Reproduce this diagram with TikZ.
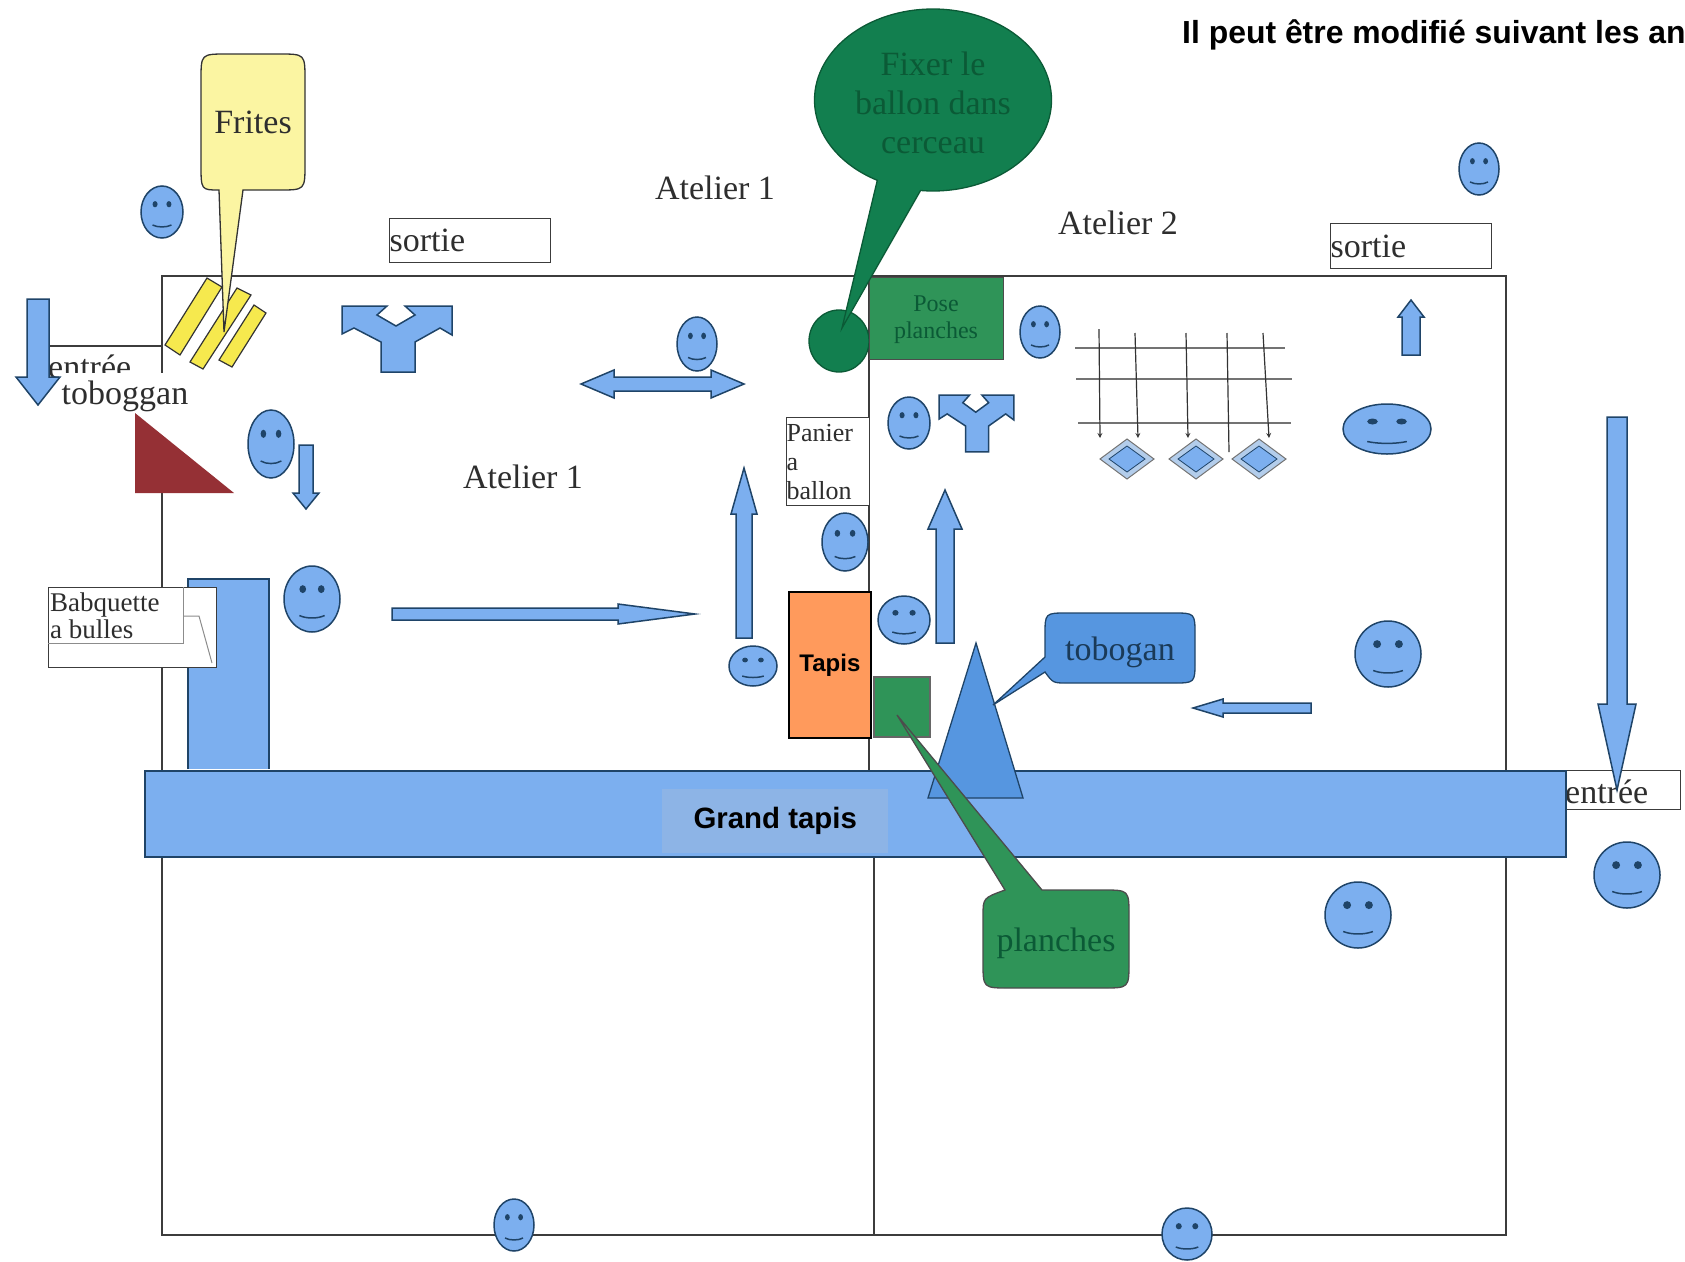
\documentclass[tikz,border=0pt]{standalone}
\usepackage{fontspec}
\setmainfont{Liberation Serif}
\newfontfamily\headfont{Liberation Sans}
\usetikzlibrary{positioning,shapes.callouts}

\definecolor{matblue}{HTML}{7CAFEF}
\definecolor{matline}{HTML}{1F4468}
\definecolor{tapisblue}{HTML}{8DB4E6}
\definecolor{slideblue}{HTML}{5696E0}
\definecolor{wall}{HTML}{3C3C3C}
\definecolor{ballgreen}{HTML}{127F4F}
\definecolor{boardgreen}{HTML}{2F9458}
\definecolor{inkgreen}{HTML}{0B5A36}
\definecolor{friesyellow}{HTML}{F6E94E}
\definecolor{paleyellow}{HTML}{FBF5A2}
\definecolor{tapisorange}{HTML}{FF9A5C}
\definecolor{slidered}{HTML}{953035}
\definecolor{tilepale}{HTML}{B3CDEB}
\definecolor{ink}{HTML}{2E2E2E}

\tikzset{
    wallline/.style={draw=wall, line width=1.8pt},
    matshape/.style={fill=matblue, draw=matline, line width=1.5pt},
    serifbig/.style={font=\fontsize{34}{38}\selectfont, text=ink, inner sep=0pt},
    boxlabel/.style={serifbig, draw=wall, fill=white, line width=1.3pt, anchor=north west, align=left},
    smallbox/.style={boxlabel, font=\fontsize{26}{29}\selectfont},
    darkline/.style={draw=black!80, line width=1.2pt},
}

\newcommand{\drawface}[4]{
    \begin{scope}[shift={(#1,#2)}, x=#3pt, y=-#4pt]
        \draw[matshape] (0,0) circle [x radius=1, y radius=1];
        \fill[matline] (-.33,-.3) circle [x radius=.12, y radius=.12];
        \fill[matline] (.33,-.3) circle [x radius=.12, y radius=.12];
        \draw[matline, line width=1.5pt] (-.45,.5) .. controls (-.2,.6) and (.2,.6) .. (.45,.5);
    \end{scope}
}
% x, y, angle, length, half shaft, head length, half head
\newcommand{\drawarrow}[7]{
    \begin{scope}[shift={(#1,#2)}, rotate=#3]
        \draw[matshape] (0,-#5) -- ({#4-#6},-#5) -- ({#4-#6},-#7) -- (#4,0)
            -- ({#4-#6},#7) -- ({#4-#6},#5) -- (0,#5) -- cycle;
    \end{scope}
}
\newcommand{\drawtee}[4]{
    \begin{scope}[shift={(#1,#2)}, xscale=#3, yscale=#4]
        \draw[matshape] (0,0) -- (45,0) -- (35,9) -- (54,20) -- (73,9) -- (63,0) -- (110,0)
            -- (110,29) -- (98,22) -- (73,36) -- (73,66) -- (39,66) -- (39,36) -- (12,22)
            -- (0,28) -- cycle;
    \end{scope}
}
\newcommand{\drawtile}[2]{
    \draw[fill=tilepale, draw=black!55, line width=1pt] (#1-27,#2) -- (#1,#2-20) -- (#1+27,#2) -- (#1,#2+20) -- cycle;
    \draw[matshape, line width=.8pt] (#1-18,#2) -- (#1,#2-13) -- (#1+18,#2) -- (#1,#2+13) -- cycle;
}

\begin{document}
\begin{tikzpicture}[x=1pt, y=-1pt]
    \useasboundingbox (0,0) rectangle (1685,1261);

    % room
    \draw[wallline] (162,373) -- (162,276) -- (1506,276) -- (1506,1235) -- (162,1235) -- (162,492);
    \draw[wallline] (869,276) -- (869,770);
    \draw[wallline] (874,856) -- (874,1235);

    \node[serifbig, anchor=north west] (titlebold) at (1182,19)
        {\headfont\bfseries\fontsize{31.9}{36}\selectfont\color{black}Il peut être modifié suivant les an};

    \node[serifbig] (ateliertop) at (715,188) {Atelier 1};
    \node[serifbig] (atelierleft) at (523,477) {Atelier 1};
    \node[serifbig] (atelierright) at (1118,223) {Atelier 2};

    \node[boxlabel, minimum width=161pt, minimum height=44pt, text width=161pt] (sortieleft) at (389,218) {sortie};
    \node[boxlabel, minimum width=161pt, minimum height=45pt, text width=161pt] (sortieright) at (1330,223) {sortie};

    % entrance on the left
    \draw[wallline] (50,346) -- (162,346);
    \node[serifbig, anchor=west] (entreeleft) at (48,367) {entrée};
    \node[fill=white, anchor=north west, inner sep=0pt, minimum width=132pt, minimum height=40pt] (tobogganmask) at (59,373) {};
    \node[serifbig] (toboggan) at (125,396) {toboggan};
    \drawarrow{38}{299}{-90}{106}{11}{28}{22}
    \fill[slidered] (135,413) -- (135,493) -- (234,493) -- cycle;

    % fries
    \draw[fill=friesyellow, draw=black!80, line width=1.2pt] (207,278) -- (222,287) -- (180,355) -- (165,345) -- cycle;
    \draw[fill=friesyellow, draw=black!80, line width=1.2pt] (237,288) -- (251,295) -- (203,369) -- (190,362) -- cycle;
    \draw[fill=friesyellow, draw=black!80, line width=1.2pt] (254,305) -- (266,313) -- (232,367) -- (219,360) -- cycle;
    \draw[fill=paleyellow, draw=black!80, line width=1.3pt] (243,190) -- (279,190) .. controls (305,190) .. (305,164)
        -- (305,80) .. controls (305,54) .. (279,54) -- (227,54) .. controls (201,54) .. (201,80)
        -- (201,164) .. controls (201,190) .. (219,190) -- (224,332) -- cycle;
    \node[serifbig] (frites) at (253,122) {Frites};

    \drawtee{342}{306}{1}{1}
    \drawtee{939}{395}{.68}{.86}

    \drawarrow{306}{445}{-90}{64}{7}{16}{13}
    \drawarrow{392}{614}{0}{303}{6}{77}{10}
    \drawarrow{744}{638}{90}{170}{8}{46}{13}
    \drawarrow{945}{643}{90}{153}{9}{39}{17}
    \drawarrow{1311}{708}{180}{118}{5}{30}{9}
    \drawarrow{1411}{355}{90}{55}{9}{17}{13}

    % double arrow
    \draw[matshape] (581,384) -- (614,370) -- (614,377) -- (711,377) -- (711,370) -- (744,384)
        -- (711,398) -- (711,391) -- (614,391) -- (614,398) -- cycle;

    % dip and bubble
    \draw[matshape] (188,769) -- (188,579) -- (269,579) -- (269,769);
    \node[draw=wall, fill=white, line width=1.2pt, anchor=north west, inner sep=0pt,
        minimum width=168pt, minimum height=80pt] (babbox) at (48,587) {};
    \draw[draw=black!45, line width=1pt] (48,643) -- (183,643) -- (183,587);
    \draw[draw=black!45, line width=1pt] (183,616) -- (199,616) -- (212,663);
    \node[serifbig, font=\fontsize{27}{27}\selectfont, anchor=north west, align=left] (babquette) at (50,593) {Babquette\\a bulles};

    % ball
    \draw[fill=ballgreen, draw=inkgreen, line width=1.3pt] (839,341) circle [x radius=30, y radius=31];
    \node[draw=black!70, fill=boardgreen, line width=1.3pt, anchor=north west, inner sep=0pt, minimum width=134pt,
        minimum height=82pt] (pose) at (869,277) {};
    \node[font=\fontsize{24}{27}\selectfont, text=inkgreen, align=center, inner sep=0pt] (poselabel) at (936,320) {Pose\\planches};
    \node[ellipse callout, callout absolute pointer={(842,328)}, callout pointer arc=22, fill=ballgreen, draw=inkgreen,
        line width=1.3pt, minimum width=237pt, minimum height=182pt, inner sep=0pt] (fixer) at (933,100) {};
    \node[font=\fontsize{34}{39}\selectfont, text=inkgreen, align=center, inner sep=0pt] (fixerlabel) at (933,103) {Fixer le\\ballon dans\\cerceau};

    \node[smallbox, minimum width=83pt, minimum height=88pt, text width=83pt] (panier) at (786,417) {Panier\\a\\ballon};

    % nets and tiles
    \draw[draw=black!55, line width=2.4pt] (1075,348) -- (1285,348);
    \draw[draw=black!55, line width=2.4pt] (1076,379) -- (1292,379);
    \draw[draw=black!55, line width=2.4pt] (1078,423) -- (1291,423);
    \draw[darkline, -stealth] (1099,329) -- (1100,438);
    \draw[darkline, -stealth] (1135,333) -- (1138,438);
    \draw[darkline, -stealth] (1186,333) -- (1188,438);
    \draw[darkline] (1227,333) -- (1229,452);
    \draw[darkline, -stealth] (1263,333) -- (1269,438);
    \drawtile{1127}{459}
    \drawtile{1196}{459}
    \drawtile{1259}{459}

    % entrance on the right
    \node[boxlabel, minimum width=115pt, minimum height=39pt] (entreebox) at (1565,770) {};
    \node[serifbig, anchor=west] (entreeright) at (1565,792) {entrée};

    % mats
    \node[draw=black, fill=tapisorange, line width=1.8pt, anchor=north west, inner sep=0pt, minimum width=82pt,
        minimum height=146pt, font=\headfont\bfseries\fontsize{24}{28}\selectfont] (tapis) at (788,591) {Tapis};
    \node[matshape, anchor=north west, inner sep=0pt, minimum width=1421pt, minimum height=86pt] (grandtapis) at (144,770) {};
    \node[fill=tapisblue, anchor=north west, inner sep=0pt, minimum width=226pt, minimum height=64pt,
        font=\headfont\bfseries\fontsize{29.4}{34}\selectfont] (grandlabel) at (662,789) {Grand tapis};

    \drawarrow{1617}{417}{-90}{373}{10}{86}{19}

    % slide and boards
    \draw[fill=slideblue, draw=matline, line width=1.3pt] (976,643) -- (1023,798) -- (928,798) -- cycle;
    \draw[fill=slideblue, draw=matline, line width=1.3pt] (1045,657) -- (1045,635) .. controls (1045,613) .. (1067,613)
        -- (1173,613) .. controls (1195,613) .. (1195,635) -- (1195,661) .. controls (1195,683) .. (1173,683)
        -- (1067,683) .. controls (1053,683) .. (1045,672) -- (993,705) -- cycle;
    \node[serifbig, text=matline!85!black] (tobogan) at (1120,652) {tobogan};
    \draw[fill=boardgreen, draw=black!60, line width=1.2pt] (874,677) rectangle (930,737);
    \draw[fill=boardgreen, draw=black!70, line width=1.3pt] (1042,890) -- (1103,890) .. controls (1129,890) .. (1129,916)
        -- (1129,962) .. controls (1129,988) .. (1103,988) -- (1009,988) .. controls (983,988) .. (983,962)
        -- (983,916) .. controls (983,898) .. (1005,890) -- (897,715) -- cycle;
    \node[serifbig, text=inkgreen] (planches) at (1056,943) {planches};

    % children
    \drawface{162}{212}{21}{26}
    \drawface{1479}{169}{20}{26}
    \drawface{697}{344}{20}{27}
    \drawface{1040}{332}{20}{26}
    \drawface{271}{444}{23}{34}
    \drawface{909}{423}{21}{26}
    \drawface{1387}{429}{44}{25}
    \drawface{845}{542}{23}{29}
    \drawface{312}{599}{28}{33}
    \drawface{904}{620}{26}{24}
    \drawface{753}{666}{24}{20}
    \drawface{1388}{654}{33}{33}
    \drawface{1627}{875}{33}{33}
    \drawface{1358}{915}{33}{33}
    \drawface{514}{1225}{20}{26}
    \drawface{1187}{1234}{25}{26}
\end{tikzpicture}
\end{document}
